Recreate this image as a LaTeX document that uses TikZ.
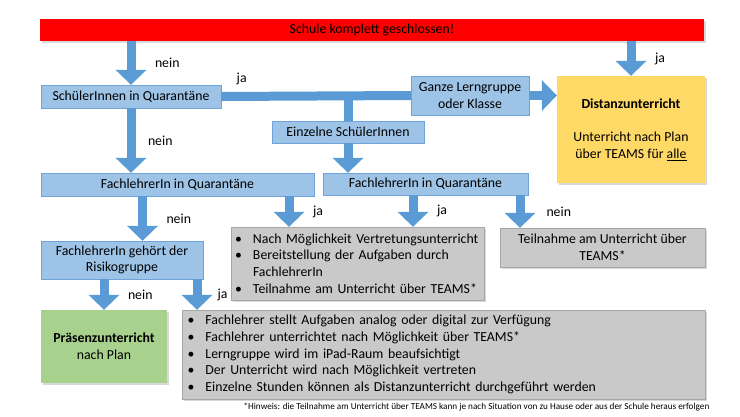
\documentclass[tikz,border=0pt]{standalone}
\usepackage{fontspec}
\setmainfont{Carlito}
\usepackage{tikz}
\usetikzlibrary{arrows.meta, shadows}

\definecolor{kastenblau}{HTML}{9DC3E6}
\definecolor{randblau}{HTML}{6FA3DA}
\definecolor{pfeilblau}{HTML}{5B9BD5}
\definecolor{kastengrau}{HTML}{C9C9C9}
\definecolor{randgrau}{HTML}{A6A6A6}
\definecolor{gelb}{HTML}{FFD966}
\definecolor{gruen}{HTML}{A9D18E}
\newcommand{\listpunkt}{\makebox[18pt][l]{\textbullet}}

\begin{document}
\begin{tikzpicture}[x=1pt, y=-1pt, font=\fontsize{13.8}{16.7}\selectfont,
    schatten/.style={drop shadow={shadow xshift=1.5pt, shadow yshift=-1.5pt, opacity=.3}},
    blau/.style={draw=randblau, fill=kastenblau, inner sep=0pt, align=center},
    grau/.style={draw=randgrau, fill=kastengrau, inner sep=0pt, schatten},
    pfeil/.style={draw=pfeilblau, line width=9pt, -{Triangle[width=31pt, length=15pt, line width=0pt]}},
    balken/.style={draw=pfeilblau, line width=9pt},
    lbl/.style={midway, inner sep=1pt, right=#1}, lbl/.default=18.5pt]
    \useasboundingbox (0,0) rectangle (740,416);

      \node[fill=red, inner sep=0pt, minimum width=664pt, minimum height=22pt, schatten](schule) at (372,30) {Schule komplett geschlossen!};
      \node[blau, minimum width=180pt, minimum height=23pt](sus) at (131,96.5) {SchülerInnen in Quarantäne};
      \node[blau, minimum width=118pt, minimum height=39pt](ganze) at (470,95.5) {Ganze Lerngruppe\\oder Klasse};
      \node[blau, minimum width=152pt, minimum height=22pt](einzel) at (348,132) {Einzelne SchülerInnen};
      \node[fill=gelb, inner sep=0pt, align=center, minimum width=148pt, minimum height=107pt, schatten](distanz) at (631,129.5)
           {\textbf{Distanzunterricht}\\[16.7pt]Unterricht nach Plan\\über TEAMS für \underline{alle}};
      \node[blau, minimum width=273pt, minimum height=23pt](fla) at (177.5,184.5) {FachlehrerIn in Quarantäne};
      \node[blau, minimum width=205pt, minimum height=22pt](flb) at (425.5,184) {FachlehrerIn in Quarantäne};
      \node[blau, minimum width=162pt, minimum height=38pt](risiko) at (122,260) {FachlehrerIn gehört der\\Risikogruppe};
      \node[grau, inner xsep=4pt, text width=245pt, minimum height=73pt, align=left](vertr) at (357.5,263.5)
           {\listpunkt Nach Möglichkeit Vertretungsunterricht\\
            \listpunkt Bereitstellung der Aufgaben durch\\
            \hspace*{18pt}FachlehrerIn\\
            \listpunkt Teilnahme am Unterricht über TEAMS*};
      \node[grau, minimum width=205pt, minimum height=39pt, align=center](teams) at (602.5,247.5) {Teilnahme am Unterricht über\\TEAMS*};
      \node[fill=gruen, inner sep=0pt, align=center, minimum width=126pt, minimum height=73pt, schatten](praesenz) at (104,346.5)
           {\textbf{Präsenzunterricht}\\nach Plan};
      \node[grau, inner xsep=5.5pt, text width=512pt, minimum height=89pt, align=left](massn) at (443.5,354.5)
           {\listpunkt Fachlehrer stellt Aufgaben analog oder digital zur Verfügung\\
            \listpunkt Fachlehrer unterrichtet nach Möglichkeit über TEAMS*\\
            \listpunkt Lerngruppe wird im iPad-Raum beaufsichtigt\\
            \listpunkt Der Unterricht wird nach Möglichkeit vertreten\\
            \listpunkt Einzelne Stunden können als Distanzunterricht durchgeführt werden};
      \node[font=\fontsize{9.2}{11}\selectfont, inner sep=0pt](hinweis) at (476.5,407)
           {*Hinweis: die Teilnahme am Unterricht über TEAMS kann je nach Situation von zu Hause oder aus der Schule heraus erfolgen};

      % Pfeile
      \draw[pfeil] (schule.south -| sus.north) -- (sus.north) node[lbl] {nein};
      \draw[pfeil] (schule.south -| distanz.north) -- (distanz.north) node[lbl] {ja};
      \draw[pfeil] (sus.south) -- (sus.south |- fla.north) node[lbl=11.5pt] {nein};
      \draw[balken] (sus.east) -- (ganze.west) node[at start, inner sep=1pt, anchor=west, xshift=10pt, yshift=17.5pt] {ja};
      \coordinate (abzweig) at (sus.east -| einzel.north);
      \draw[balken] (abzweig) -- (einzel.north);
      \draw[pfeil] (einzel.south) -- (einzel.south |- flb.north);
      \draw[pfeil] (ganze.east) -- (ganze.east -| distanz.west);
      \draw[pfeil] ([xshift=-35pt]fla.south) -- ([xshift=20.5pt]risiko.north) node[lbl] {nein};
      \draw[pfeil] ([xshift=111.5pt]fla.south) -- ([xshift=-68.5pt]vertr.north) node[lbl] {ja};
      \draw[pfeil] ([xshift=-12.5pt]flb.south) -- ([xshift=55.5pt]vertr.north) node[lbl] {ja};
      \draw[pfeil] ([xshift=94.5pt]flb.south) -- ([xshift=-82.5pt]teams.north) node[lbl=21pt] {nein};
      \draw[pfeil] ([xshift=-18pt]risiko.south) -- (praesenz.north) node[lbl] {nein};
      \draw[pfeil] ([xshift=75pt]risiko.south) -- ([xshift=-246.5pt]massn.north) node[lbl=15pt] {ja};
\end{tikzpicture}
\end{document}
